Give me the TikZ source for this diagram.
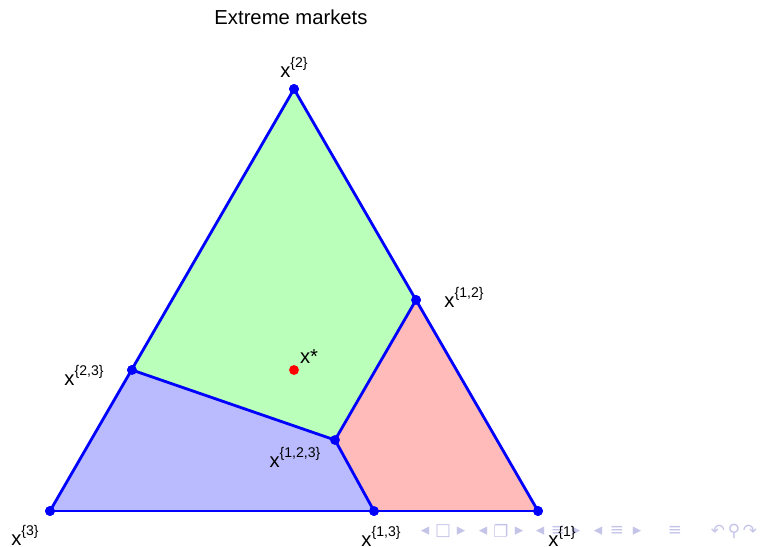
\documentclass[tikz,border=0pt]{standalone}
\usepackage{fontspec}
\setmainfont{Liberation Sans}
\newfontfamily\navfont{DejaVu Sans}
\definecolor{navcol}{RGB}{196,196,232}
\newcommand{\xlab}[1]{x\raisebox{0.95ex}{\normalsize\{#1\}}}
\begin{document}
\begin{tikzpicture}
  [x=0.025cm,y=0.025cm,every node/.style={font=\Large},
   pt/.style={circle,fill=blue,inner sep=0pt,minimum size=7pt},
   nav/.style={font=\navfont\large,text=navcol}]
  \useasboundingbox (0,0) rectangle (760,546);
  % Vertices and market points
  \node[pt] (n3) at (50,35) {};
  \node[pt] (n1) at (538,35) {};
  \node[pt] (n2) at (294,457) {};
  \node[pt] (n12) at (416,246) {};
  \node[pt] (n23) at (132,176) {};
  \node[pt] (n13) at (374,35) {};
  \node[pt] (n123) at (335,106) {};
  \node[pt,fill=red] (xs) at (294,176) {};

  % Regions
  \fill[blue!27] (n3.center) -- (n13.center) -- (n123.center) -- (n23.center) -- cycle;
  \fill[green!27] (n23.center) -- (n123.center) -- (n12.center) -- (n2.center) -- cycle;
  \fill[red!27] (n123.center) -- (n13.center) -- (n1.center) -- (n12.center) -- cycle;

  % Edges
  \foreach \from/\to in {n3/n1, n1/n2, n2/n3, n23/n123, n123/n12, n123/n13}
    \draw[blue,line width=2pt] (\from.center) -- (\to.center);
  \foreach \p in {n1,n2,n3,n12,n23,n13,n123}
    \node[pt] at (\p) {};
  \node[pt,fill=red] at (xs) {};

  % Navigation symbols
  \foreach \s/\px in {◂/425, □/443, ▸/461, ◂/483, ❐/501, ▸/519, ◂/540, ≡/558, ▸/576, ◂/598, ≡/617, ▸/637, ≡/675, ↶/718, ⚲/734, ↷/750}
    \node[nav] at (\px,15) {\s};

  % Labels
  \node (l2) at (294,479) {\xlab{2}};
  \node (l12) at (464,249) {\xlab{1,2}};
  \node (l23) at (84,171) {\xlab{2,3}};
  \node (ls) at (309,189) {x*};
  \node (l123) at (295,89) {\xlab{1,2,3}};
  \node (l3) at (25,11) {\xlab{3}};
  \node (l13) at (381,10) {\xlab{1,3}};
  \node (l1) at (562,10) {\xlab{1}};
  \node (title) at (291,529) {Extreme markets};
\end{tikzpicture}
\end{document}
